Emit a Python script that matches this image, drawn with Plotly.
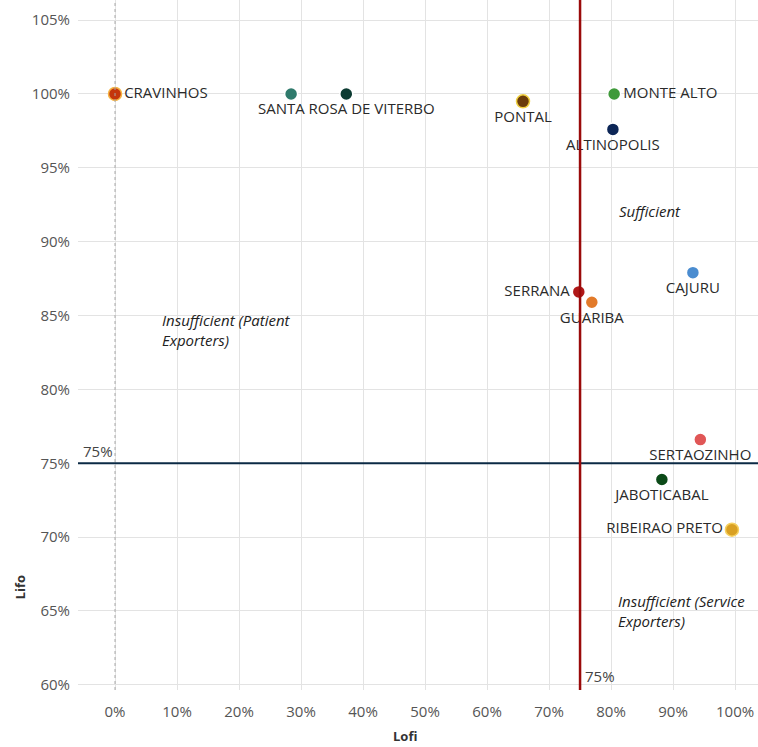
import plotly.graph_objects as go

cities = ["CRAVINHOS", "", "SANTA ROSA DE VITERBO", "PONTAL", "MONTE ALTO", "ALTINOPOLIS",
          "SERRANA", "GUARIBA", "CAJURU", "SERTAOZINHO", "JABOTICABAL", "RIBEIRAO PRETO"]
lofi = [0.0, 28.4, 37.3, 65.8, 80.5, 80.3, 74.8, 76.9, 93.2, 94.4, 88.2, 99.5]
lifo = [100.0, 100.0, 100.0, 99.5, 100.0, 97.6, 86.6, 85.9, 87.9, 76.6, 73.9, 70.5]
colors = ["#c4360c", "#2f7a6c", "#0c3b32", "#6b3c0b", "#3f9a3a", "#0c2556",
          "#b01818", "#e27a2a", "#4a8cd0", "#e05656", "#0b4a18", "#d9a023"]
positions = ["middle right", "bottom center", "bottom center", "bottom center", "middle right",
             "bottom center", "middle left", "bottom center", "bottom center", "bottom center",
             "bottom center", "middle left"]
outline = ["#f5b342", "white", "white", "#f0d040", "white", "white",
           "white", "white", "white", "white", "white", "#f5d060"]

x_ticks = [0, 10, 20, 30, 40, 50, 60, 70, 80, 90, 100]
y_ticks = [60, 65, 70, 75, 80, 85, 90, 95, 100, 105]
threshold = 75

font_family = "Open Sans, sans-serif"

fig = go.Figure()
fig.add_trace(go.Scatter(
    x=lofi, y=lifo, mode="markers+text", text=cities,
    textposition=positions,
    textfont=dict(family=font_family, size=15, color="#2a2a2a"),
    marker=dict(size=13, color=colors, line=dict(color=outline, width=1.5)),
    cliponaxis=False, showlegend=False, hoverinfo="skip",
))

# dotted zero line
fig.add_shape(type="line", x0=0, x1=0, y0=0, y1=1, xref="x", yref="paper",
              line=dict(color="#a8a8a8", width=1, dash="dot"))
# reference lines
fig.add_shape(type="line", x0=-10, x1=110, y0=threshold, y1=threshold, xref="x", yref="y",
              line=dict(color="#0b2a45", width=2))
fig.add_shape(type="line", x0=threshold, x1=threshold, y0=0, y1=1, xref="x", yref="paper",
              line=dict(color="#9a0a0a", width=2.5))

ann_font = dict(family=font_family, size=15, color="#222222")
ref_font = dict(family=font_family, size=15, color="#444444")
fig.add_annotation(x=-5.5, y=threshold, text="75%", showarrow=False, xanchor="left",
                   yanchor="bottom", font=ref_font)
fig.add_annotation(x=threshold + 0.4, y=59.8, text="75%", showarrow=False, xanchor="left",
                   yanchor="bottom", font=ref_font)
fig.add_annotation(x=81.0, y=92.1, text="<i>Sufficient</i>", showarrow=False, xanchor="left",
                   font=ann_font)
fig.add_annotation(x=7.2, y=84.0, text="<i>Insufficient (Patient<br>Exporters)</i>",
                   showarrow=False, xanchor="left", align="left", font=ann_font)
fig.add_annotation(x=80.8, y=65.0, text="<i>Insufficient (Service<br>Exporters)</i>",
                   showarrow=False, xanchor="left", align="left", font=ann_font)
fig.add_annotation(x=-0.085, y=0.149, xref="paper", yref="paper", text="<b>Lifo</b>",
                   textangle=-90, showarrow=False, xanchor="center", yanchor="middle",
                   font=dict(family=font_family, size=13, color="#333333"))
fig.add_annotation(x=0.481, y=-0.066, xref="paper", yref="paper", text="<b>Lofi</b>",
                   showarrow=False, xanchor="center", yanchor="middle",
                   font=dict(family=font_family, size=13, color="#333333"))

fig.update_layout(
    width=758, height=747, autosize=False,
    margin=dict(l=78, r=0, t=0, b=57),
    plot_bgcolor="white", paper_bgcolor="white",
    font=dict(family=font_family),
    xaxis=dict(range=[-5.97, 103.7], tickvals=x_ticks, ticktext=[f"{v}%" for v in x_ticks],
               showgrid=True, gridcolor="#e3e3e3", zeroline=False, showline=False,
               tickfont=dict(size=15, color="#555555"), ticks="", ticklabelstandoff=11),
    yaxis=dict(range=[59.65, 106.36], tickvals=y_ticks, ticktext=[f"{v}%" for v in y_ticks],
               showgrid=True, gridcolor="#e3e3e3", zeroline=False, showline=False,
               tickfont=dict(size=15, color="#555555"), ticks="", ticklabelstandoff=7),
)

fig.write_html("out.html", config={"displayModeBar": False},
               post_script="document.body.style.margin='0px';document.body.style.overflow='hidden';")
